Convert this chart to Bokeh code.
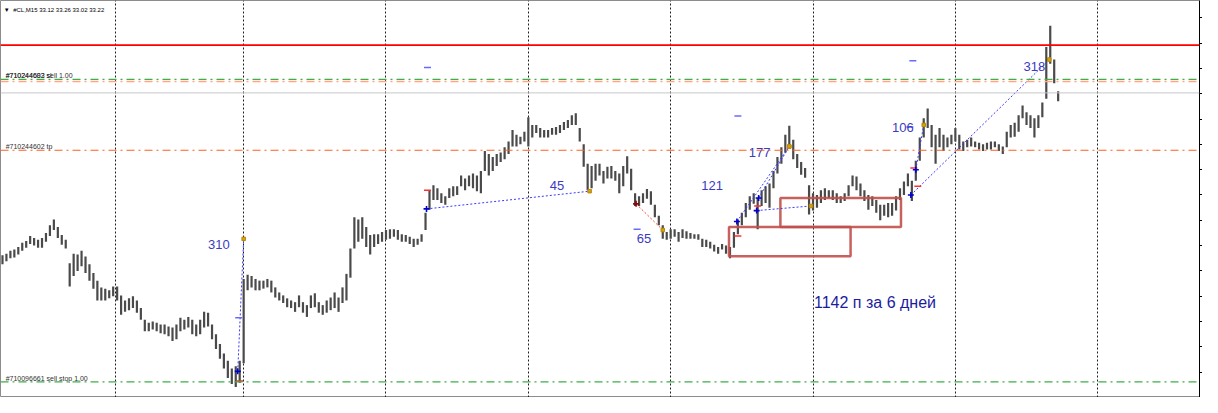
from bokeh.plotting import figure
from bokeh.models import Range1d, FixedTicker, Span
from bokeh.embed import file_html
from bokeh.resources import INLINE
from bokeh.core.properties import value

# ---------------- data ----------------
symbol = "#CL,M15"
last_ohlc = [33.12, 33.26, 33.02, 33.22]

high = [
    29.37, 29.41, 29.48, 29.51, 29.57, 29.67, 29.71, 29.83, 29.78, 29.74,
    29.78, 29.90, 30.08, 30.22, 30.04, 29.85, 29.74, 29.18, 29.41, 29.39,
    29.48, 29.34, 29.16, 28.95, 28.77, 28.61, 28.58, 28.54, 28.63, 28.63,
    28.42, 28.30, 28.35, 28.40, 28.30, 28.12, 27.84, 27.77, 27.80, 27.77,
    27.73, 27.73, 27.68, 27.66, 27.73, 27.89, 27.84, 27.91, 27.84, 27.73,
    27.84, 28.03, 28.01, 27.73, 27.50, 27.27, 27.04, 26.87, 26.69, 26.74,
    26.87, 28.81, 28.91, 28.88, 28.81, 28.77, 28.77, 28.81, 28.77, 28.61,
    28.49, 28.42, 28.35, 28.30, 28.26, 28.42, 28.26, 28.19, 28.42, 28.47,
    28.26, 28.19, 28.30, 28.37, 28.49, 28.37, 28.61, 28.93, 29.53, 30.27,
    30.22, 30.27, 30.04, 29.85, 29.87, 29.87, 29.92, 29.97, 29.99, 29.99,
    29.97, 29.87, 29.85, 29.81, 29.76, 29.76, 29.87, 30.38, 30.91, 31.03,
    30.96, 30.84, 30.77, 30.96, 31.01, 31.01, 31.26, 31.19, 31.26, 31.31,
    31.26, 31.37, 31.84, 31.77, 31.70, 31.77, 31.81, 31.93, 32.07, 32.34,
    32.23, 32.18, 32.30, 32.64, 32.46, 32.46, 32.39, 32.34, 32.34, 32.39,
    32.41, 32.46, 32.53, 32.58, 32.69, 32.74, 32.39, 32.00, 31.54, 31.49,
    31.54, 31.54, 31.37, 31.47, 31.49, 31.37, 31.31, 31.49, 31.72, 31.42,
    30.84, 30.77, 30.84, 30.94, 30.89, 30.57, 30.31, 30.08, 29.92, 29.99,
    29.99, 29.92, 29.99, 29.94, 29.90, 29.87, 29.87, 29.76, 29.74, 29.69,
    29.62, 29.57, 29.64, 29.60, 29.57, 29.92, 30.22, 30.38, 30.61, 30.77,
    30.84, 30.73, 30.91, 31.01, 31.07, 31.37, 31.70, 31.93, 32.23, 32.44,
    32.11, 31.77, 31.58, 31.44, 31.03, 30.84, 30.80, 30.91, 30.96, 30.91,
    30.91, 30.84, 30.77, 30.84, 31.03, 31.26, 31.24, 31.07, 30.91, 30.80,
    30.77, 30.68, 30.57, 30.57, 30.61, 30.61, 30.77, 30.96, 31.12, 31.31,
    31.14, 31.61, 32.16, 32.62, 32.85, 32.46, 32.23, 32.39, 32.23, 32.16,
    32.23, 32.39, 32.23, 32.07, 32.11, 32.16, 32.07, 32.04, 32.00, 32.04,
    32.07, 32.07, 32.00, 31.95, 32.30, 32.46, 32.51, 32.69, 32.92, 32.76,
    32.69, 32.62, 32.69, 32.99, 34.31, 34.81, 34.01, 33.26,
]
low = [
    29.16, 29.23, 29.30, 29.32, 29.39, 29.48, 29.55, 29.64, 29.60, 29.55,
    29.55, 29.69, 29.83, 29.97, 29.78, 29.62, 29.53, 28.63, 28.88, 29.00,
    29.11, 28.95, 28.77, 28.58, 28.30, 28.30, 28.30, 28.35, 28.40, 28.30,
    27.96, 28.03, 28.07, 28.12, 28.01, 27.84, 27.57, 27.57, 27.61, 27.57,
    27.52, 27.50, 27.45, 27.34, 27.38, 27.57, 27.61, 27.66, 27.50, 27.45,
    27.50, 27.66, 27.68, 27.38, 27.15, 26.92, 26.69, 26.46, 26.32, 26.25,
    26.35, 26.81, 28.54, 28.61, 28.54, 28.54, 28.58, 28.61, 28.49, 28.37,
    28.30, 28.24, 28.14, 28.12, 28.03, 28.14, 28.01, 27.91, 28.12, 28.14,
    28.01, 27.96, 28.01, 28.07, 28.12, 28.03, 28.24, 28.30, 28.84, 29.53,
    29.69, 29.76, 29.57, 29.39, 29.57, 29.64, 29.69, 29.74, 29.76, 29.81,
    29.74, 29.69, 29.69, 29.64, 29.57, 29.62, 29.69, 29.97, 30.45, 30.68,
    30.68, 30.61, 30.57, 30.73, 30.77, 30.80, 31.01, 30.91, 31.01, 30.96,
    30.89, 30.84, 31.37, 31.26, 31.37, 31.49, 31.58, 31.65, 31.77, 31.95,
    31.95, 32.00, 32.07, 31.95, 32.16, 32.27, 32.16, 32.16, 32.16, 32.23,
    32.23, 32.27, 32.34, 32.39, 32.46, 32.46, 32.07, 31.47, 30.91, 30.96,
    31.14, 31.26, 31.07, 31.19, 31.19, 31.14, 30.84, 31.01, 31.31, 30.91,
    30.54, 30.54, 30.61, 30.71, 30.57, 30.27, 30.08, 29.76, 29.74, 29.76,
    29.81, 29.69, 29.78, 29.76, 29.76, 29.76, 29.74, 29.57, 29.57, 29.53,
    29.46, 29.41, 29.51, 29.41, 29.30, 29.55, 29.87, 30.08, 30.27, 30.45,
    30.59, 29.99, 30.54, 30.61, 30.50, 30.96, 31.31, 31.54, 31.81, 32.00,
    31.65, 31.44, 31.28, 31.21, 30.34, 30.43, 30.50, 30.61, 30.68, 30.73,
    30.68, 30.61, 30.61, 30.66, 30.77, 31.01, 30.91, 30.77, 30.66, 30.45,
    30.54, 30.38, 30.20, 30.31, 30.27, 30.31, 30.43, 30.68, 30.80, 31.01,
    30.66, 31.14, 31.61, 32.16, 32.39, 31.93, 31.54, 31.93, 31.84, 31.93,
    32.00, 32.07, 31.88, 31.84, 31.93, 31.95, 31.93, 31.88, 31.84, 31.88,
    31.88, 31.93, 31.84, 31.77, 31.93, 32.16, 32.18, 32.30, 32.62, 32.46,
    32.39, 32.16, 32.39, 32.64, 33.08, 33.91, 33.45, 33.02,
]
bar = list(range(len(high)))

# day separators (bar numbers)
day_breaks = [28.5, 61, 97, 133, 169, 205, 241, 277]
# price scale ticks
price_ticks = [26.0, 26.6, 27.2, 27.8, 28.4, 29.0, 29.6, 30.2, 30.8, 31.4,
               32.0, 32.6, 33.2, 33.8, 34.4, 35.0]

# order levels
sl_level = 34.35
sell_level = 33.54
sell_level2 = 33.49
bid_level = 33.22
tp_level = 31.86
sellstop_level = 26.37
sell_label = "#710244683 sell 1.00"
sl_label = "#710244602 sl"
tp_label = "#710244602 tp"
sellstop_label = "#710096661 sell stop 1.00"

# closed trades (buy = blue, sell = red)
buy_entry_bar = [59.5, 107.25, 185.75, 191.25, 190.75, 231, 229.75]
buy_entry_price = [26.62, 30.47, 30.17, 30.73, 30.43, 31.40, 30.80]
buy_exit_bar = [61, 148.5, 199, 199, 204.5, 233, 264.75]
buy_exit_price = [29.76, 30.89, 31.95, 31.95, 30.54, 32.46, 34.01]
sell_entry_bar = [160.25]
sell_entry_price = [30.59]
sell_exit_bar = [167]
sell_exit_price = [29.97]

# results in points
result_text = ["310", "45", "65", "121", "177", "106", "318"]
result_bar = [54.75, 140.25, 162.25, 179.5, 191.5, 227.75, 261]
result_price = [29.62, 31.03, 29.76, 31.03, 31.81, 32.39, 33.84]

# sl / tp arrows
tp_mark_bar = [59.75, 107.5, 160.5, 186, 229.5, 230.25]
tp_mark_price = [27.89, 33.82, 29.99, 32.67, 32.41, 33.98]
sl_mark_bar = [60, 107.5, 186, 191, 230.5, 231.5]
sl_mark_price = [26.39, 30.91, 29.83, 30.54, 31.44, 31.01]

# boxes
box_left = [183.75, 196.75]
box_right = [214.5, 227.25]
box_bottom = [29.35, 30.04]
box_top = [30.04, 30.73]

summary = "1142 п за 6 дней"

# ---------------- figure ----------------
FONT = value("Liberation Sans")

p = figure(width=1202, height=397, output_backend="svg", toolbar_location=None,
           x_range=Range1d(-0.5, 302.75), y_range=Range1d(26.0, 35.41),
           y_axis_location="right", min_border_left=0, min_border_top=0,
           min_border_bottom=0, min_border_right=0,
           background_fill_color="white", border_fill_color="white")
p.outline_line_color = "#8c8c8c"
p.xaxis.visible = False
p.ygrid.visible = False
p.xgrid.ticker = FixedTicker(ticks=day_breaks)
p.xgrid.grid_line_color = "#202020"
p.xgrid.grid_line_dash = "2 2"
p.xgrid.grid_line_width = 1

ya = p.yaxis[0]
ya.ticker = FixedTicker(ticks=price_ticks)
ya.major_label_overrides = {t: "" for t in price_ticks}
ya.major_label_standoff = 0
ya.major_tick_in = 0
ya.major_tick_out = 3
ya.minor_tick_line_color = None
ya.axis_line_color = "black"

# order levels
p.add_layout(Span(location=tp_level, dimension="width", line_color="#ff6020",
                  line_dash="8 4 2 4", line_width=1.2))
p.add_layout(Span(location=sellstop_level, dimension="width", line_color="#3fae49",
                  line_dash="8 4 2 4", line_width=1.4))
p.add_layout(Span(location=bid_level, dimension="width", line_color="#c8c8c8",
                  line_width=1))
p.add_layout(Span(location=sell_level2, dimension="width", line_color="#ffa57f",
                  line_dash="8 4 2 4", line_width=1.4))
p.add_layout(Span(location=sell_level, dimension="width", line_color="#3fae49",
                  line_dash="8 4 2 4", line_width=1.4))
p.add_layout(Span(location=sl_level, dimension="width", line_color="#ff0000",
                  line_width=1.8))

# price bars
p.segment(x0=bar, y0=low, x1=bar, y1=high, line_color="#4a4a4a", line_width=2.2)

# boxes
p.quad(left=box_left, right=box_right, bottom=box_bottom, top=box_top,
       fill_alpha=0, line_color="#c0504d", line_width=2.5, line_alpha=0.9)

# trade lines
p.segment(x0=buy_entry_bar, y0=buy_entry_price, x1=buy_exit_bar, y1=buy_exit_price,
          line_color="#3a3aff", line_dash="2 2", line_width=1)
p.segment(x0=sell_entry_bar, y0=sell_entry_price, x1=sell_exit_bar, y1=sell_exit_price,
          line_color="#ff4040", line_dash="2 2", line_width=1)

# markers
p.scatter(x=tp_mark_bar, y=tp_mark_price, marker="dash", size=7,
          line_color="#6a6aff", line_width=1.5)
p.scatter(x=sl_mark_bar, y=sl_mark_price, marker="dash", size=7,
          line_color="#ff3030", line_width=1.5)
p.scatter(x=buy_entry_bar, y=buy_entry_price, marker="cross", size=6,
          line_color="#0000cc", line_width=1.6)
p.scatter(x=sell_entry_bar, y=sell_entry_price, marker="cross", size=6,
          line_color="#990000", line_width=1.6)
p.scatter(x=buy_exit_bar + sell_exit_bar, y=buy_exit_price + sell_exit_price,
          marker="square", size=3.5, fill_color="#d9a400", line_color="#b8860b")

# level labels
p.text(x=[0.8, 0.8, 0.8, 0.8], y=[sell_level, sell_level, tp_level, sellstop_level],
       text=[sell_label, sl_label, tp_label, sellstop_label],
       text_font=FONT, text_font_size="7px", text_color="#303030",
       text_baseline="bottom", text_align="left")

# header
p.text(x=[0.3], y=[35.18], text=["\u25bc"], text_font=FONT, text_font_size="6px",
       text_color="black", text_baseline="middle", text_align="left")
p.text(x=[2.7], y=[35.18],
       text=[symbol + " " + " ".join("%.2f" % v for v in last_ohlc)],
       text_font=FONT, text_font_size="6px", text_color="black",
       text_baseline="middle", text_align="left")

# results
p.text(x=result_bar, y=result_price, text=result_text, text_font=FONT,
       text_font_size="13px", text_color="#3b3bbf", text_baseline="middle",
       text_align="center")
p.text(x=[205.25], y=[28.26], text=[summary], text_font=FONT,
       text_font_size="16px", text_color="#1c1ca0", text_baseline="middle",
       text_align="left")

open("out.html", "w").write(file_html(p, INLINE))
